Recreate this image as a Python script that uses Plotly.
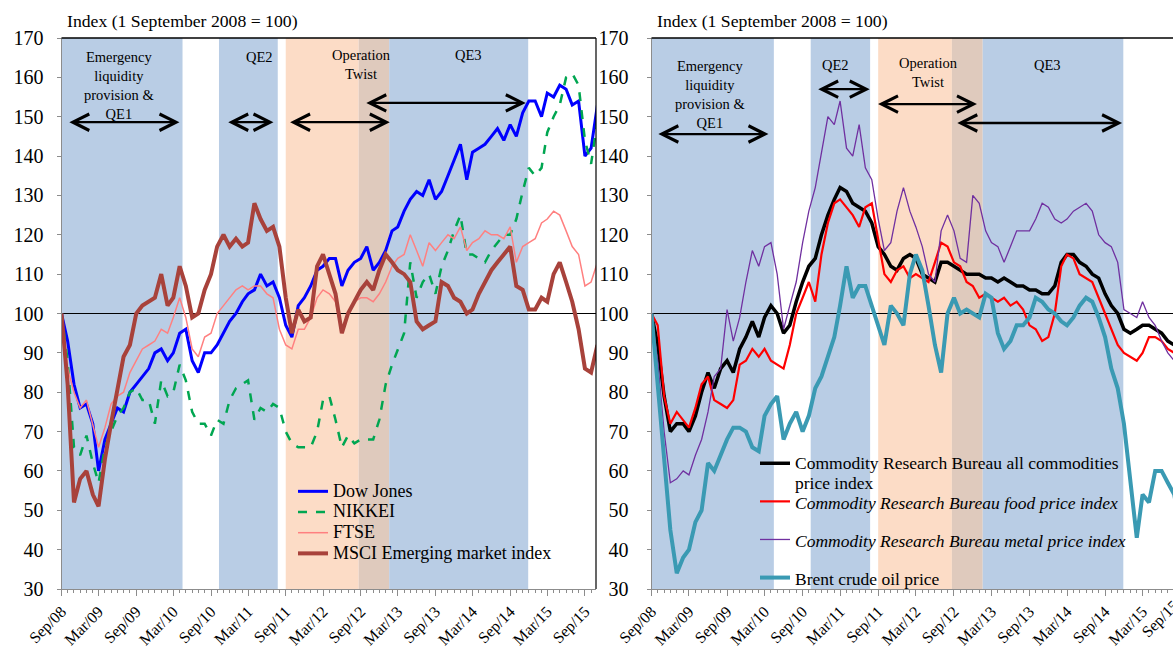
import pandas as pd
import plotly.graph_objects as go

# ---------------------------------------------------------------------------
# Monthly observations, index 1 September 2008 = 100
# ---------------------------------------------------------------------------
months = pd.date_range("2008-09-01", periods=87, freq="MS")

dow_jones = [100, 93, 82, 76, 77, 72, 60, 68, 72, 76,
             75, 80, 82, 84, 86, 90, 91, 88, 90, 95,
             96, 88, 85, 90, 90, 92, 95, 98, 100, 103,
             105, 106, 110, 107, 108, 104, 97, 94, 102, 104,
             107, 111, 112, 114, 114, 107, 111, 113, 114, 117,
             111, 113, 116, 121, 122, 126, 129, 131, 130, 134,
             129, 131, 135, 139, 143, 134, 141, 142, 143, 145,
             147, 144, 148, 145, 151, 154, 154, 150, 156, 155,
             158, 157, 153, 154, 140, 142, 153]

nikkei = [100, 88, 66, 64, 69, 62, 57, 66, 70, 74,
          76, 80, 81, 78, 78, 72, 83, 79, 80, 87,
          83, 75, 72, 72, 69, 73, 72, 78, 81, 82,
          83, 73, 76, 75, 77, 76, 70, 67, 66, 66,
          66, 70, 78, 79, 73, 66, 69, 67, 68, 68,
          68, 73, 82, 87, 91, 95, 113, 104, 108, 110,
          105, 112, 116, 121, 125, 115, 115, 114, 113, 116,
          118, 120, 120, 124, 131, 137, 135, 137, 146, 150,
          153, 160, 161, 158, 144, 138, 149]

ftse = [100, 86, 80, 76, 78, 72, 66, 71, 77, 79,
        80, 85, 88, 91, 92, 93, 96, 95, 99, 104,
        99, 91, 89, 94, 95, 100, 102, 104, 106, 107,
        106, 107, 107, 105, 104, 96, 92, 91, 96, 96,
        99, 104, 106, 105, 103, 95, 100, 103, 104, 104,
        103, 105, 108, 112, 114, 115, 120, 116, 112, 118,
        116, 118, 120, 119, 122, 116, 118, 119, 121, 120,
        120, 119, 122, 113, 117, 118, 119, 123, 124, 126,
        125, 121, 117, 115, 107, 108, 113]

msci_em = [100, 82, 52, 58, 60, 54, 51, 63, 72, 80,
           89, 92, 100, 102, 103, 104, 110, 102, 104, 112,
           107, 99, 100, 106, 110, 117, 120, 117, 119, 117,
           118, 128, 124, 121, 122, 117, 104, 95, 101, 98,
           99, 112, 115, 110, 105, 95, 100, 103, 106, 108,
           106, 111, 115, 113, 111, 110, 108, 98, 96, 97,
           98, 108, 107, 104, 103, 100, 101, 105, 108, 111,
           113, 115, 117, 107, 106, 101, 101, 104, 103, 110,
           113, 108, 103, 96, 86, 85, 92]

crb_all = [100, 92, 79, 70, 72, 72, 70, 74, 80, 85,
           81, 86, 88, 85, 91, 94, 98, 94, 99, 102,
           100, 95, 97, 103, 108, 112, 114, 120, 125, 129,
           132, 131, 128, 127, 126, 123, 117, 115, 112, 111,
           114, 115, 114, 110, 109, 108, 113, 113, 112, 111,
           110, 110, 110, 109, 109, 108, 109, 108, 107, 107,
           106, 106, 105, 105, 107, 113, 115, 115, 113, 112,
           110, 109, 105, 102, 100, 96, 95, 96, 97, 97,
           96, 95, 93, 92, 91, 90, 89]

crb_food = [100, 97, 79, 72, 75, 73, 71, 76, 82, 84,
            78, 77, 76, 78, 87, 88, 91, 89, 91, 88,
            87, 86, 92, 100, 104, 108, 103, 115, 123, 128,
            129, 127, 125, 122, 127, 128, 119, 110, 108, 111,
            112, 109, 110, 109, 108, 113, 118, 117, 113, 112,
            108, 107, 104, 105, 104, 103, 104, 102, 103, 101,
            97, 96, 93, 94, 100, 112, 115, 114, 110, 109,
            108, 104, 100, 96, 92, 90, 89, 88, 90, 94,
            94, 93, 91, 90, 90, 89, 88]

crb_metal = [100, 88, 70, 57, 58, 60, 59, 64, 68, 75,
             84, 86, 101, 93, 99, 108, 116, 112, 117, 118,
             110, 96, 102, 108, 118, 126, 132, 141, 150, 148,
             154, 142, 140, 148, 137, 134, 124, 116, 118, 126,
             132, 126, 122, 117, 110, 108, 121, 125, 121, 114,
             113, 130, 128, 121, 118, 117, 113, 117, 121, 121,
             121, 124, 128, 127, 124, 123, 124, 126, 127, 128,
             126, 120, 118, 117, 113, 101, 100, 99, 103, 99,
             97, 93, 90, 88, 88, 87, 86]

brent = [100, 82, 64, 45, 34, 38, 40, 47, 50, 62,
         60, 64, 68, 71, 71, 70, 66, 65, 74, 77,
         79, 68, 72, 75, 70, 74, 81, 84, 89, 94,
         102, 112, 104, 107, 107, 102, 97, 92, 102, 100,
         97, 110, 115, 111, 102, 92, 85, 100, 104, 100,
         101, 100, 99, 105, 104, 95, 91, 93, 97, 97,
         99, 104, 103, 101, 100, 98, 97, 99, 102, 104,
         103, 99, 94, 86, 81, 72, 57, 43, 54, 52,
         60, 60, 57, 54, 45, 44, 43]

# Policy periods: (start, end) dates
qe1_period = ("2008-09-01", "2010-04-15")
qe2_period = ("2010-10-10", "2011-07-24")
twist_period = ("2011-09-01", "2013-01-18")
qe3_period = ("2012-08-22", "2014-11-28")

FONT = "Liberation Serif"
BLUE_BAND = "#b9cde5"
ORANGE_BAND = "#fcdcc6"
OVERLAP_BAND = "#dfcabd"
AXIS_GREY = "#8c8c8c"
TICK_SIZE = 16

W, H = 1173, 648
left_dom = [61.5 / W, 596 / W]
right_dom = [651.5 / W, 1.0]
y_dom = [1 - 589 / H, 1 - 38 / H]


def entry(text, size, italic=False, shift=0):
    """Legend label rendered at a given pixel size (optionally nudged down)."""
    style = f"font-size:{size}px"
    if shift:
        style += f";baseline-shift:-{shift}px"
    body = f"<span style='{style}'>{text}</span>"
    if italic:
        body = f"<i>{body}</i>"
    return body


fig = go.Figure()

left_series = [
    ("Dow Jones", dow_jones, dict(color="#0000ff", width=3)),
    ("NIKKEI", nikkei, dict(color="#00a651", width=2.5, dash="dash")),
    ("FTSE", ftse, dict(color="#ff8080", width=1.5)),
    ("MSCI Emerging market index", msci_em, dict(color="#a8423b", width=4)),
]
for name, vals, line in left_series:
    fig.add_trace(go.Scatter(x=months, y=vals, name=entry(name, 18), mode="lines",
                             line=line, xaxis="x", yaxis="y", legend="legend"))

right_series = [
    (entry("Commodity Research Bureau all commodities", 17.5) + "<br>"
     + entry("price index", 17.5, shift=3),
     crb_all, dict(color="#000000", width=3.5)),
    (entry("Commodity Research Bureau food price index", 17.5, italic=True, shift=2) + "<br> ",
     crb_food, dict(color="#ff0000", width=2.2)),
    (entry("Commodity Research Bureau metal price index", 17.5, italic=True, shift=2) + "<br> ",
     crb_metal, dict(color="#7030a0", width=1.3)),
    (entry("Brent crude oil price", 17.5, shift=2), brent, dict(color="#3a9ab3", width=4)),
]
for name, vals, line in right_series:
    fig.add_trace(go.Scatter(x=months, y=vals, name=name, mode="lines", line=line,
                             xaxis="x2", yaxis="y2", legend="legend2"))

# Shaded policy bands and the 100 reference line on both panels
for xr, yr in (("x", "y"), ("x2", "y2")):
    bands = [
        (qe1_period[0], qe1_period[1], BLUE_BAND),
        (qe2_period[0], qe2_period[1], BLUE_BAND),
        (twist_period[0], qe3_period[0], ORANGE_BAND),
        (qe3_period[0], twist_period[1], OVERLAP_BAND),
        (twist_period[1], qe3_period[1], BLUE_BAND),
    ]
    for x0, x1, col in bands:
        fig.add_shape(type="rect", xref=xr, yref=f"{yr} domain", x0=x0, x1=x1,
                      y0=0, y1=1, fillcolor=col, line_width=0, layer="below")
    fig.add_shape(type="line", xref=f"{xr} domain", yref=yr, x0=0, x1=1, y0=100, y1=100,
                  line=dict(color="black", width=1), layer="below")
    # top frame line
    fig.add_shape(type="line", xref=f"{xr} domain", yref=f"{yr} domain", x0=0, x1=1,
                  y0=1, y1=1, line=dict(color="black", width=1.5))

# right frame of the left panel
fig.add_shape(type="line", xref="x domain", yref="y domain", x0=1, x1=1, y0=0, y1=1,
              line=dict(color="black", width=1.2))

annotations = []

# Axis captions
for xr, yr in (("x", "y"), ("x2", "y2")):
    annotations.append(dict(text="Index (1 September 2008 = 100)", xref=f"{xr} domain",
                            yref=f"{yr} domain", x=0, y=1, xanchor="left", yanchor="bottom",
                            xshift=3, yshift=5, showarrow=False,
                            font=dict(family=FONT, size=17.7, color="black")))

# Period labels: (axis, text, date, value, anchor)
labels = [
    ("x", "y", "Emergency<br>liquidity<br>provision &<br>QE1", "2009-06-08", 167.6, "top"),
    ("x", "y", "QE2", "2011-04-26", 165.2, "middle"),
    ("x", "y", "Operation<br>Twist", "2012-09-07", 168.1, "top"),
    ("x", "y", "QE3", "2014-02-11", 165.7, "middle"),
    ("x2", "y2", "Emergency<br>liquidity<br>provision &<br>QE1", "2009-06-12", 165.5, "top"),
    ("x2", "y2", "QE2", "2011-02-08", 163.1, "middle"),
    ("x2", "y2", "Operation<br>Twist", "2012-05-03", 166.1, "top"),
    ("x2", "y2", "QE3", "2013-11-29", 163.1, "middle"),
]
for xr, yr, txt, xd, yv, ya in labels:
    annotations.append(dict(text=txt, xref=xr, yref=yr, x=xd, y=yv, xanchor="center",
                            yanchor=ya, showarrow=False,
                            font=dict(family=FONT, size=14.5, color="black")))

# Double-headed arrows: (axis, start, end, value)
arrows = [
    ("x", "y", "2008-10-02", "2010-03-31", 148.6),
    ("x", "y", "2010-11-17", "2011-07-03", 148.6),
    ("x", "y", "2011-09-15", "2013-01-21", 148.6),
    ("x", "y", "2012-09-21", "2014-11-16", 153.5),
    ("x2", "y2", "2008-09-27", "2010-03-20", 145.6),
    ("x2", "y2", "2010-11-08", "2011-07-22", 157.0),
    ("x2", "y2", "2011-08-24", "2012-12-21", 153.2),
    ("x2", "y2", "2012-09-10", "2014-11-22", 148.4),
]
for xr, yr, a0, a1, yv in arrows:
    annotations.append(dict(text="", xref=xr, yref=yr, axref=xr, ayref=yr,
                            x=a1, y=yv, ax=a0, ay=yv, showarrow=True,
                            arrowside="end+start", arrowhead=5, startarrowhead=5,
                            arrowsize=1.4, startarrowsize=1.4, arrowwidth=2.3,
                            arrowcolor="black", standoff=0, startstandoff=0))

# Last tick label of the right panel, which falls past the page edge
annotations.append(dict(text="Sep/15", xref="paper", yref="paper", x=1185 / W,
                        y=1 - 594 / H, xanchor="right", yanchor="top", textangle=-45,
                        showarrow=False, font=dict(family=FONT, size=TICK_SIZE, color="black")))

xaxis_common = dict(
    type="date", tickformat="%b/%y", dtick="M6", tick0="2008-09-01",
    tickangle=-45, ticks="outside", ticklen=6, tickcolor=AXIS_GREY,
    showline=True, linecolor=AXIS_GREY, linewidth=1, showgrid=False, zeroline=False,
    automargin=False,
    tickfont=dict(family=FONT, size=TICK_SIZE, color="black"),
    minor=dict(dtick="M1", tick0="2008-09-01", ticks="outside", ticklen=3,
               tickcolor=AXIS_GREY, showgrid=False),
)
yaxis_common = dict(
    range=[30, 170], dtick=10, ticks="outside", ticklen=4, tickcolor=AXIS_GREY,
    showline=True, linecolor=AXIS_GREY, linewidth=1, showgrid=False, zeroline=False,
    automargin=False,
    tickfont=dict(family=FONT, size=20, color="black"), domain=y_dom,
)

fig.update_layout(
    width=W, height=H, margin=dict(l=0, r=0, t=0, b=0, autoexpand=False),
    paper_bgcolor="white", plot_bgcolor="white",
    font=dict(family=FONT, color="black"),
    xaxis=dict(xaxis_common, domain=left_dom, anchor="y",
               range=["2008-09-01", "2015-10-25"]),
    yaxis=dict(yaxis_common, anchor="x", ticklabelstandoff=9),
    xaxis2=dict(xaxis_common, domain=right_dom, anchor="y2",
                range=["2008-09-01", "2015-07-26"]),
    yaxis2=dict(yaxis_common, anchor="x2", ticklabelstandoff=14),
    legend=dict(x=293 / W, y=1 - 476 / H, xanchor="left", yanchor="top",
                bgcolor="rgba(0,0,0,0)", font=dict(family=FONT, size=13.6, color="black"),
                tracegroupgap=0),
    legend2=dict(x=755 / W, y=1 - 448 / H, xanchor="left", yanchor="top",
                 bgcolor="rgba(0,0,0,0)", font=dict(family=FONT, size=13.5, color="black"),
                 valign="top", tracegroupgap=0),
    annotations=annotations,
    showlegend=True,
)

fig.write_html("out.html")
